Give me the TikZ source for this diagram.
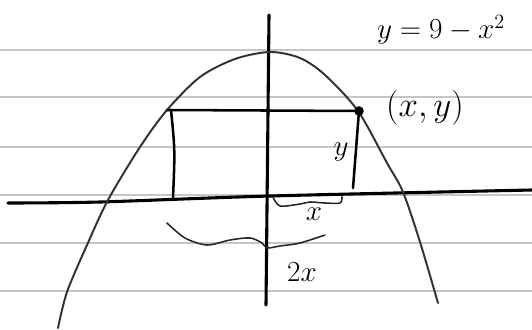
\documentclass[tikz,border=0pt]{standalone}
\usepackage{tikz}
\tikzset{
  ruled/.style={gray!45, line width=1.3pt},
  axis/.style={black, line width=2.2pt, line cap=round},
  curve/.style={black!80, line width=1.4pt, line cap=round},
  pen/.style={black, line width=1.8pt, line cap=round},
  brace/.style={black!85, line width=1.1pt, line cap=round},
  hand/.style={font=\fontsize{20}{24}\selectfont},
}
\begin{document}
\begin{tikzpicture}[x=0.25mm, y=-0.25mm]
    \useasboundingbox[fill=white] (0,0) rectangle (532,330);

    % ruled paper
    \foreach \ly in {50,97,147,195,243,291}
        \draw[ruled] (0,\ly) -- (532,\ly);

    % axes
    \draw[axis] plot[smooth] coordinates {(8,203) (100,202) (270,196) (532,190)};
    \draw[axis] (269,15) -- (266,305);

    % parabola
    \draw[curve] plot[smooth] coordinates {(58,328) (67,292) (87,245) (108,200)
        (140,147) (167,110) (200,77) (235,59) (270,52) (300,58) (325,75) (358,111)
        (387,163) (403,192) (420,242) (438,303)};

    % inscribed rectangle
    \coordinate (corner) at (359,111);
    \draw[pen] (167,110) -- (corner);
    \draw[pen] (171,110) .. controls (175,150) .. (173,198);
    \draw[pen] (corner) -- (353,188);
    \fill (corner) circle (3.4pt);

    % braces
    \draw[brace] plot[smooth] coordinates {(273,197) (280,206) (300,204) (310,202)
        (325,203) (340,203) (342,197)};
    \draw[brace] plot[smooth] coordinates {(167,223) (185,238) (207,245) (230,240)
        (250,238) (262,243) (267,248) (280,246) (300,243) (325,235)};

    % labels
    \node[hand] (eqn) at (441,30) {$y=9-x^2$};
    \node[hand, font=\fontsize{24}{28}\selectfont] (pt) at (425,108) {$(x,y)$};
    \node[hand] (ylab) at (341,152) {$y$};
    \node[hand] (xlab) at (314,214) {$x$};
    \node[hand] (twox) at (302,272) {$2x$};
\end{tikzpicture}
\end{document}
